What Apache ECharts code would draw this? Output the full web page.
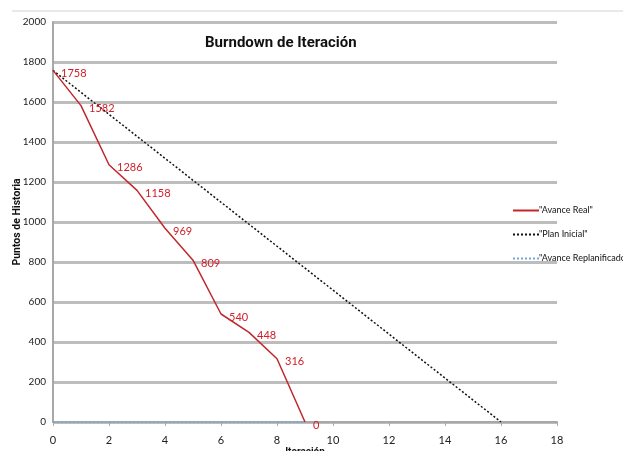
<!DOCTYPE html>
<html>
<head>
<meta charset="utf-8">
<script src="https://cdn.jsdelivr.net/npm/echarts@6/dist/echarts.min.js"></script>
<style>
  html, body { margin: 0; padding: 0; background: #fff; }
  #chart { width: 623px; height: 451px; }
</style>
</head>
<body>
<div id="chart"></div>
<script>
// Iterations and remaining story points
const iterations = [0, 1, 2, 3, 4, 5, 6, 7, 8, 9];
const avanceReal = [1758, 1582, 1286, 1158, 969, 809, 540, 448, 316, 0];
const planIteraciones = [0, 16];
const planInicial = [1758, 0];
const replanIteraciones = [0, 9];
const avanceReplanificado = [0, 0];
const xTicks = { min: 0, max: 18, interval: 2 };
const yTicks = { min: 0, max: 2000, interval: 200 };

const FONT = "Lato, 'Noto Sans', sans-serif";
const BOLD_FONT = "Roboto, 'Liberation Sans', sans-serif";

const pairs = (xs, ys) => xs.map((x, i) => [x, ys[i]]);

const chart = echarts.init(document.getElementById('chart'));
chart.setOption({
  animation: false,
  backgroundColor: '#fff',
  title: {
    text: 'Burndown de Iteración',
    left: 200, top: 31,
    textStyle: { fontFamily: BOLD_FONT, fontSize: 15, fontWeight: 'bold', color: '#111' }
  },
  legend: {
    orient: 'vertical',
    left: 507, top: 201,
    itemGap: 15,
    itemWidth: 26, itemHeight: 10,
    itemStyle: { opacity: 0 },
    textStyle: { fontFamily: FONT, fontSize: 9, color: '#111', padding: [0, 0, 0, -5] },
    formatter: name => '"' + name + '"',
    data: ['Avance Real', 'Plan Inicial', 'Avance Replanificado']
  },
  grid: { left: 53, right: 66, top: 22, bottom: 29, outerBoundsMode: 'none' },
  xAxis: {
    type: 'value',
    min: xTicks.min, max: xTicks.max, interval: xTicks.interval,
    name: 'Iteración', nameLocation: 'middle', nameGap: 25, nameMoveOverlap: false,
    nameTextStyle: { fontFamily: BOLD_FONT, fontSize: 10, fontWeight: 'bold', color: '#111' },
    axisLine: { lineStyle: { color: '#a8a8a8', width: 2 } },
    axisTick: { show: true, length: 4, lineStyle: { color: '#a8a8a8' } },
    axisLabel: { fontFamily: FONT, fontSize: 11, color: '#222', margin: 13 },
    splitLine: { show: false }
  },
  yAxis: {
    type: 'value',
    min: yTicks.min, max: yTicks.max, interval: yTicks.interval,
    name: 'Puntos de Historia', nameLocation: 'middle', nameGap: 30, nameRotate: 90, nameMoveOverlap: false,
    nameTextStyle: { fontFamily: BOLD_FONT, fontSize: 10.5, fontWeight: 'bold', color: '#111' },
    axisLine: { show: true, lineStyle: { color: '#a8a8a8', width: 2 } },
    axisTick: { show: false },
    axisLabel: { fontFamily: FONT, fontSize: 10, color: '#222', margin: 7, formatter: v => String(v) },
    splitLine: { show: true, lineStyle: { color: '#bdbdbd', width: 3 } }
  },
  series: [
    {
      name: 'Avance Real',
      type: 'line',
      data: pairs(iterations, avanceReal),
      symbol: 'circle',
      symbolSize: 0,
      color: '#c0282d',
      lineStyle: { color: '#c0282d', width: 1.5 },
      label: {
        show: true, position: 'right', distance: 8, offset: [0, 3],
        fontFamily: FONT, fontSize: 11, color: '#d0202a'
      },
      z: 3
    },
    {
      name: 'Plan Inicial',
      type: 'line',
      data: pairs(planIteraciones, planInicial),
      symbol: 'none',
      color: '#111',
      lineStyle: { color: '#111', width: 1.5, type: [2, 2] },
      z: 2
    },
    {
      name: 'Avance Replanificado',
      type: 'line',
      data: pairs(replanIteraciones, avanceReplanificado),
      symbol: 'none',
      color: '#6fa8d8',
      lineStyle: { color: '#6fa8d8', width: 1.5, type: [2, 2] },
      z: 4
    }
  ],
  graphic: [
    { type: 'line', shape: { x1: 12, y1: 11, x2: 623, y2: 11 }, style: { stroke: '#e2e2e2', lineWidth: 1.5 } }
  ]
});
</script>
</body>
</html>
